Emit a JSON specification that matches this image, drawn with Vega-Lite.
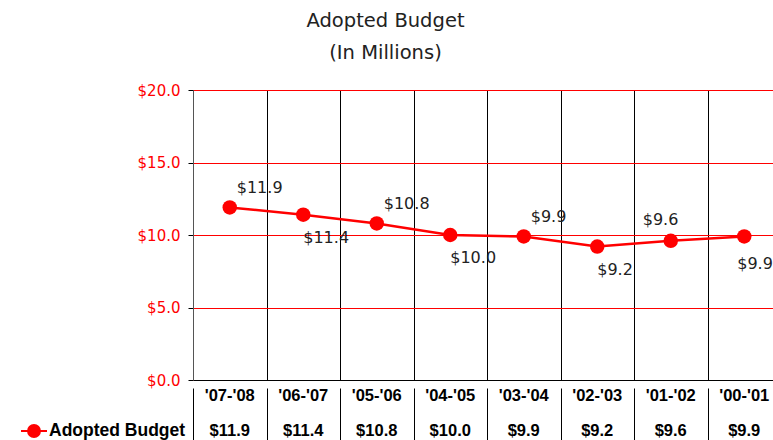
{
  "$schema": "https://vega.github.io/schema/vega-lite/v6.json",
  "padding": {"left": 20, "top": 10, "right": 0, "bottom": 0},
  "datasets": {
    "budget": [
      {"year": "'07-'08", "amount": 11.9},
      {"year": "'06-'07", "amount": 11.4},
      {"year": "'05-'06", "amount": 10.8},
      {"year": "'04-'05", "amount": 10.0},
      {"year": "'03-'04", "amount": 9.9},
      {"year": "'02-'03", "amount": 9.2},
      {"year": "'01-'02", "amount": 9.6},
      {"year": "'00-'01", "amount": 9.9}
    ]
  },
  "title": {
    "text": ["Adopted Budget", "(In Millions)"],
    "font": "DejaVu Sans",
    "fontSize": 19.5,
    "fontWeight": "normal",
    "color": "#222222",
    "lineHeight": 32,
    "anchor": "middle",
    "dx": -15,
    "offset": 20
  },
  "spacing": 0,
  "config": {
    "view": {"stroke": null},
    "concat": {"spacing": 0}
  },
  "vconcat": [
    {
      "width": 588,
      "height": 290,
      "data": {"name": "budget"},
      "encoding": {
        "x": {
          "field": "year",
          "type": "nominal",
          "sort": null,
          "scale": {"paddingInner": 0, "paddingOuter": 0},
          "axis": {
            "title": null,
            "labels": false,
            "ticks": false,
            "domain": true,
            "domainColor": "#000000",
            "domainWidth": 1,
            "grid": true,
            "gridColor": "#000000",
            "gridOpacity": 1,
            "gridWidth": 1,
            "tickBand": "extent"
          }
        },
        "y": {
          "field": "amount",
          "type": "quantitative",
          "scale": {"domain": [0, 20]},
          "axis": {
            "title": null,
            "values": [0, 5, 10, 15, 20],
            "format": "$.1f",
            "labelColor": "#ff0000",
            "labelFont": "DejaVu Sans",
            "labelFontSize": 15,
            "labelPadding": 8,
            "tickColor": "#000000",
            "tickSize": 5,
            "domainColor": "#555555",
            "gridColor": "#ff0000",
            "gridOpacity": 1,
            "gridWidth": 1
          }
        }
      },
      "layer": [
        {
          "mark": {"type": "line", "strokeWidth": 2.5},
          "encoding": {
            "color": {
              "datum": "Adopted Budget",
              "type": "nominal",
              "scale": {"range": ["#ff0000"]},
              "legend": {
                "title": null,
                "orient": "none",
                "legendX": -173,
                "legendY": 327,
                "symbolType": "M-1,0L1,0M0.46,0A0.46,0.46,0,1,1,-0.46,0A0.46,0.46,0,1,1,0.46,0Z",
                "symbolSize": 676,
                "symbolStrokeWidth": 2,
                "symbolFillColor": "#ff0000",
                "symbolStrokeColor": "#ff0000",
                "labelFont": "Liberation Sans",
                "labelFontSize": 17.5,
                "labelFontWeight": "bold",
                "labelColor": "#000000",
                "labelOffset": 1
              }
            }
          }
        },
        {
          "mark": {"type": "point", "filled": true, "size": 210, "opacity": 1},
          "encoding": {
            "color": {"datum": "Adopted Budget", "type": "nominal"}
          }
        },
        {
          "transform": [{"filter": {"field": "year", "oneOf": ["'07-'08", "'05-'06", "'03-'04"]}}],
          "mark": {"type": "text", "align": "left", "baseline": "middle", "dx": 7, "dy": -19, "font": "DejaVu Sans", "fontSize": 16, "color": "#222222"},
          "encoding": {"text": {"field": "amount", "type": "quantitative", "format": "$.1f"}}
        },
        {
          "transform": [{"filter": {"field": "year", "oneOf": ["'01-'02"]}}],
          "mark": {"type": "text", "align": "left", "baseline": "middle", "dx": -28, "dy": -21, "font": "DejaVu Sans", "fontSize": 16, "color": "#222222"},
          "encoding": {"text": {"field": "amount", "type": "quantitative", "format": "$.1f"}}
        },
        {
          "transform": [{"filter": {"field": "year", "oneOf": ["'06-'07", "'04-'05", "'02-'03"]}}],
          "mark": {"type": "text", "align": "left", "baseline": "middle", "dx": 0, "dy": 23, "font": "DejaVu Sans", "fontSize": 16, "color": "#222222"},
          "encoding": {"text": {"field": "amount", "type": "quantitative", "format": "$.1f"}}
        },
        {
          "transform": [{"filter": {"field": "year", "oneOf": ["'00-'01"]}}],
          "mark": {"type": "text", "align": "left", "baseline": "middle", "dx": -7, "dy": 28, "font": "DejaVu Sans", "fontSize": 16, "color": "#222222"},
          "encoding": {"text": {"field": "amount", "type": "quantitative", "format": "$.1f"}}
        }
      ]
    },
    {
      "width": 588,
      "height": 66,
      "data": {"name": "budget"},
      "encoding": {
        "x": {
          "field": "year",
          "type": "nominal",
          "sort": null,
          "scale": {"paddingInner": 0, "paddingOuter": 0},
          "axis": {
            "title": null,
            "labels": false,
            "ticks": false,
            "domain": false,
            "grid": true,
            "gridColor": "#000000",
            "gridOpacity": 1,
            "gridWidth": 1,
            "tickBand": "extent"
          }
        }
      },
      "layer": [
        {
          "mark": {"type": "text", "font": "Liberation Sans", "fontSize": 16.5, "fontWeight": "bold", "color": "#000000", "baseline": "middle"},
          "encoding": {
            "y": {"datum": "label", "type": "ordinal", "scale": {"domain": ["label", "value"], "type": "point", "padding": 0.443, "align": 0.27}, "axis": null},
            "text": {"field": "year", "type": "nominal"}
          }
        },
        {
          "mark": {"type": "text", "font": "Liberation Sans", "fontSize": 16.5, "fontWeight": "bold", "color": "#000000", "baseline": "middle"},
          "encoding": {
            "y": {"datum": "value", "type": "ordinal"},
            "text": {"field": "amount", "type": "quantitative", "format": "$.1f"}
          }
        }
      ]
    }
  ]
}
